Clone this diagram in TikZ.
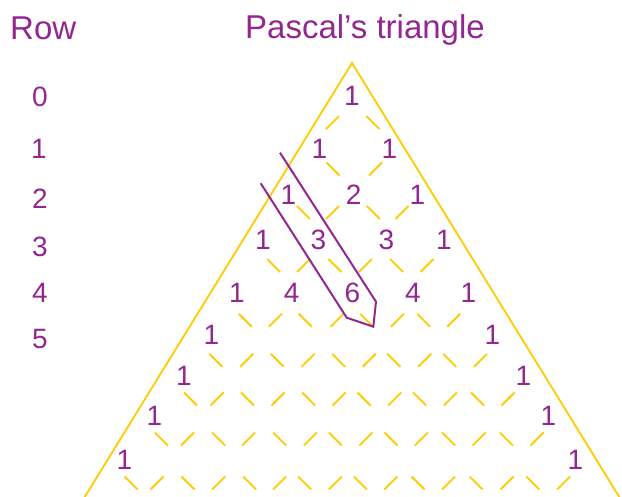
\documentclass[tikz,border=0pt]{standalone}
\usepackage{fontspec}
\setmainfont{Liberation Sans}
\definecolor{pp}{RGB}{146,39,143}
\definecolor{yy}{RGB}{255,204,0}
\tikzset{
  yst/.style={draw=yy, line width=1.8pt, line cap=butt},
  edge/.style={draw=yy, line width=1.8pt, line join=miter},
  num/.style={text=pp, inner sep=0pt, font=\fontsize{28}{30}\selectfont},
  ttl/.style={text=pp, inner sep=0pt, anchor=base, font=\fontsize{33}{36}\selectfont},
  mark line/.style={draw=pp, line width=2pt, line join=miter}
}
% #1 = y centre, #2 = 0 if the row starts with "\", 1 if it starts with "/", #3 = x centres
\newcommand{\strokerow}[3]{%
  \foreach \xx [count=\ii] in {#3} {%
    \pgfmathtruncatemacro\pq{mod(\ii+#2,2)}%
    \ifnum\pq=1
      \draw[yst] (\xx,#1) ++(-6.5,-6.5) -- ++(13,13);
    \else
      \draw[yst] (\xx,#1) ++(6.5,-6.5) -- ++(-13,13);
    \fi
  }%
}
\begin{document}
\begin{tikzpicture}[x=1pt,y=-1pt]
\useasboundingbox (0,0) rectangle (622,497);
\fill[white] (0,0) rectangle (622,497);

% titles
\node[ttl] (rowtitle) at (43.2,39.3) {Row};
\node[ttl] (title) at (365,39) {Pascal’s triangle};

% outer triangle
\coordinate (apex) at (352,63);
\coordinate (bl) at (84.7,497);
\coordinate (br) at (619.3,497);
\draw[edge] (bl) -- (apex) -- (br);

% dashes between rows
\strokerow{122.7}{1}{332.5,373}
\strokerow{169}{0}{333,375.5}
\strokerow{212.5}{0}{303.3,332.7,373.3,402}
\strokerow{265.5}{0}{273.7,303.7,335,365.3,396.7,427}
\strokerow{320.3}{0}{245.3,275.3,305.3,337,366.7,397.3,423.7,453.7}
\strokerow{360.3}{0}{215.8,246.7,277.3,308,338.7,369.2,393.8,424.7,449.7,480.5}
\strokerow{399}{0}{190.5,217,247.5,278,308.7,339.2,364,394.7,419.7,450.3,477.5,508}
\strokerow{439}{0}{161.3,187.5,218.7,248.7,279.7,310.3,335.3,365.8,391,421.3,448.7,479.2,506.3,537}
\strokerow{483}{0}{131.2,157,188,218.7,249.7,279.7,304.7,335.3,360.3,390.8,418,448.7,476.2,507,532.8,563.7}

% row labels
\node[num] (r0) at (40,97) {0};
\node[num] (r1) at (39,149) {1};
\node[num] (r2) at (40,199) {2};
\node[num] (r3) at (40,246.7) {3};
\node[num] (r4) at (40,292.5) {4};
\node[num] (r5) at (40,339) {5};

% numbers
\node[num] (n00) at (352,95.5) {1};
\node[num] (n10) at (319.5,149) {1};
\node[num] (n11) at (389.5,149) {1};
\node[num] (n20) at (288.5,195) {1};
\node[num] (n21) at (353.7,195) {2};
\node[num] (n22) at (417.5,195) {1};
\node[num] (n30) at (263,239.7) {1};
\node[num] (n31) at (318.3,239.7) {3};
\node[num] (n32) at (386.3,239.7) {3};
\node[num] (n33) at (443.8,239.7) {1};
\node[num] (n40) at (237,292.7) {1};
\node[num] (n41) at (291.7,292.7) {4};
\node[num] (n42) at (352.5,292.7) {6};
\node[num] (n43) at (412.8,292.7) {4};
\node[num] (n44) at (468.5,292.7) {1};
\node[num] (n50) at (211.5,335) {1};
\node[num] (n55) at (492.5,335) {1};
\node[num] (n60) at (184,376) {1};
\node[num] (n66) at (523.5,376) {1};
\node[num] (n70) at (154.5,416) {1};
\node[num] (n77) at (548.5,416) {1};
\node[num] (n80) at (124.5,460) {1};
\node[num] (n88) at (575.3,460) {1};

% purple marker around the diagonal 1,3,6
\coordinate (m1) at (280,152.7);
\coordinate (m2) at (376,301.7);
\coordinate (m3) at (373.3,326.7);
\coordinate (m4) at (346.7,317.7);
\coordinate (m5) at (260.7,183.3);
\draw[mark line] (m1) -- (m2) -- (m3) -- (m4) -- (m5);
\end{tikzpicture}
\end{document}
